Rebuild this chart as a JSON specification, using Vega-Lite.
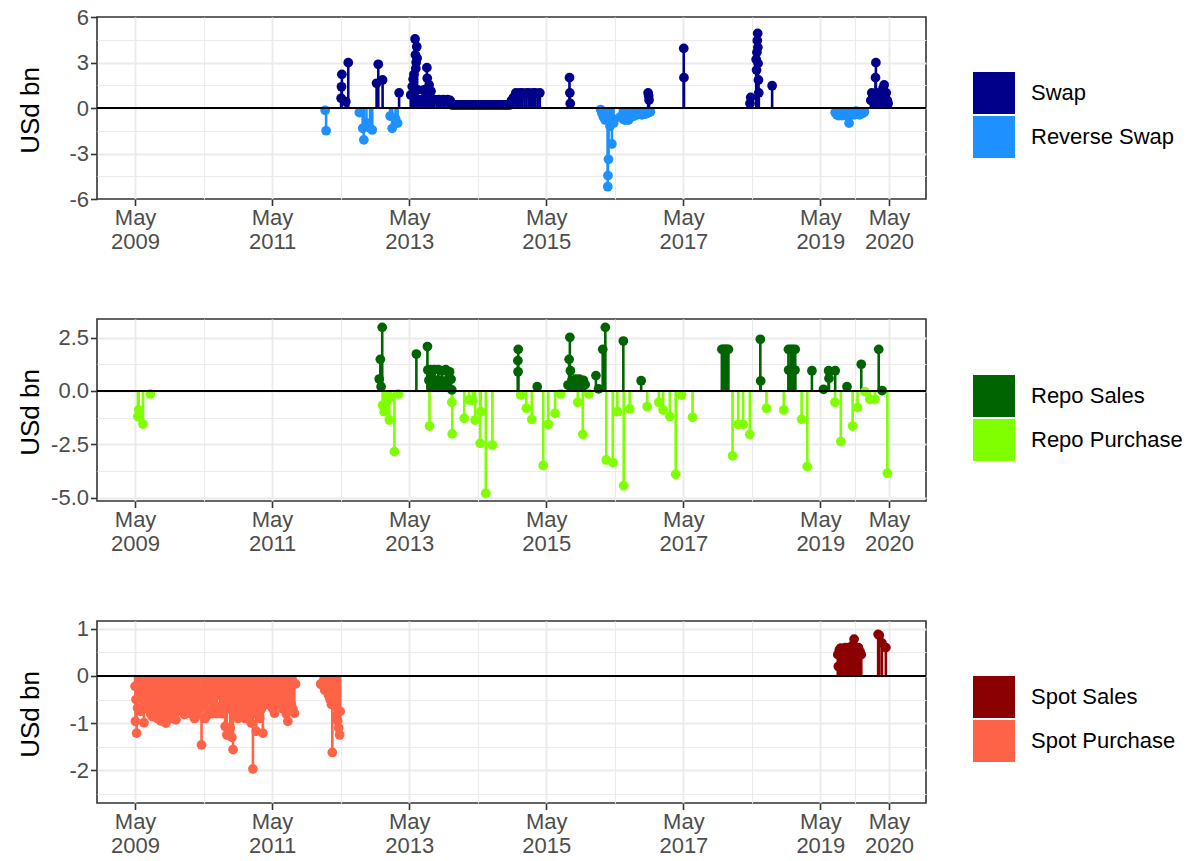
{
"$schema": "https://vega.github.io/schema/vega-lite/v6.json",
"padding": {"left": 16, "top": 5, "right": 0, "bottom": 0},
"background": "white",
"config": {
 "font": "Liberation Sans",
 "view": {"stroke": "#333333", "strokeWidth": 1.6},
 "axis": {"domain": false, "gridColor": "#EBEBEB", "tickColor": "#333333", "tickWidth": 1.6, "tickSize": 6.5, "labelColor": "#4D4D4D", "labelFontSize": 22, "labelPadding": 2, "labelFont": "Liberation Sans", "titleFont": "Liberation Sans", "titleFontSize": 26, "titleFontWeight": "normal", "titleColor": "#000000", "tickCount": 100},
 "legend": {"symbolType": "square", "symbolSize": 1764, "symbolStrokeWidth": 0, "symbolOpacity": 1, "labelFontSize": 22, "labelColor": "#000000", "labelFont": "Liberation Sans", "labelOffset": 16, "rowPadding": 2, "padding": 0, "labelLimit": 300}
},
"datasets": {
"swap": [
{"date":"2012-02-08","type":"Reverse Swap","value":-0.15},
{"date":"2012-02-13","type":"Reverse Swap","value":-1.5},
{"date":"2012-08-08","type":"Reverse Swap","value":-0.3},
{"date":"2012-08-26","type":"Reverse Swap","value":-1.34},
{"date":"2012-09-01","type":"Reverse Swap","value":-2.1},
{"date":"2012-09-15","type":"Reverse Swap","value":-1.0},
{"date":"2012-10-04","type":"Reverse Swap","value":-1.34},
{"date":"2012-10-16","type":"Reverse Swap","value":-1.45},
{"date":"2013-01-19","type":"Reverse Swap","value":-0.53},
{"date":"2013-01-30","type":"Reverse Swap","value":-1.34},
{"date":"2013-02-17","type":"Reverse Swap","value":-0.7},
{"date":"2013-02-28","type":"Reverse Swap","value":-1.0},
{"date":"2016-02-15","type":"Reverse Swap","value":-0.1},
{"date":"2016-02-22","type":"Reverse Swap","value":-0.35},
{"date":"2016-03-01","type":"Reverse Swap","value":-0.6},
{"date":"2016-03-10","type":"Reverse Swap","value":-0.79},
{"date":"2016-03-18","type":"Reverse Swap","value":-0.5},
{"date":"2016-03-24","type":"Reverse Swap","value":-5.19},
{"date":"2016-03-25","type":"Reverse Swap","value":-4.46},
{"date":"2016-03-28","type":"Reverse Swap","value":-3.38},
{"date":"2016-04-05","type":"Reverse Swap","value":-1.2},
{"date":"2016-04-15","type":"Reverse Swap","value":-2.37},
{"date":"2016-04-20","type":"Reverse Swap","value":-0.7},
{"date":"2016-04-24","type":"Reverse Swap","value":-1.0},
{"date":"2016-05-28","type":"Reverse Swap","value":-0.6},
{"date":"2016-06-06","type":"Reverse Swap","value":-0.57},
{"date":"2016-06-15","type":"Reverse Swap","value":-0.75},
{"date":"2016-06-24","type":"Reverse Swap","value":-0.8},
{"date":"2016-07-03","type":"Reverse Swap","value":-0.65},
{"date":"2016-07-12","type":"Reverse Swap","value":-0.8},
{"date":"2016-07-21","type":"Reverse Swap","value":-0.6},
{"date":"2016-07-30","type":"Reverse Swap","value":-0.5},
{"date":"2016-08-08","type":"Reverse Swap","value":-0.55},
{"date":"2016-08-17","type":"Reverse Swap","value":-0.4},
{"date":"2016-08-26","type":"Reverse Swap","value":-0.45},
{"date":"2016-09-04","type":"Reverse Swap","value":-0.35},
{"date":"2016-09-13","type":"Reverse Swap","value":-0.4},
{"date":"2016-09-22","type":"Reverse Swap","value":-0.45},
{"date":"2016-10-01","type":"Reverse Swap","value":-0.3},
{"date":"2016-10-10","type":"Reverse Swap","value":-0.4},
{"date":"2016-10-19","type":"Reverse Swap","value":-0.35},
{"date":"2016-10-28","type":"Reverse Swap","value":-0.3},
{"date":"2016-11-06","type":"Reverse Swap","value":-0.25},
{"date":"2019-07-19","type":"Reverse Swap","value":-0.3},
{"date":"2019-07-28","type":"Reverse Swap","value":-0.45},
{"date":"2019-08-06","type":"Reverse Swap","value":-0.5},
{"date":"2019-08-15","type":"Reverse Swap","value":-0.35},
{"date":"2019-08-24","type":"Reverse Swap","value":-0.5},
{"date":"2019-09-02","type":"Reverse Swap","value":-0.4},
{"date":"2019-09-11","type":"Reverse Swap","value":-0.5},
{"date":"2019-09-20","type":"Reverse Swap","value":-0.45},
{"date":"2019-10-01","type":"Reverse Swap","value":-1.0},
{"date":"2019-10-05","type":"Reverse Swap","value":-0.5},
{"date":"2019-10-12","type":"Reverse Swap","value":-0.4},
{"date":"2019-10-20","type":"Reverse Swap","value":-0.3},
{"date":"2019-10-29","type":"Reverse Swap","value":-0.45},
{"date":"2019-11-07","type":"Reverse Swap","value":-0.2},
{"date":"2019-11-16","type":"Reverse Swap","value":-0.4},
{"date":"2019-11-25","type":"Reverse Swap","value":-0.45},
{"date":"2019-12-04","type":"Reverse Swap","value":-0.3},
{"date":"2019-12-13","type":"Reverse Swap","value":-0.35},
{"date":"2019-12-22","type":"Reverse Swap","value":-0.25},
{"date":"2012-05-03","type":"Swap","value":0.64},
{"date":"2012-05-05","type":"Swap","value":1.4},
{"date":"2012-05-07","type":"Swap","value":2.22},
{"date":"2012-05-28","type":"Swap","value":0.42},
{"date":"2012-06-10","type":"Swap","value":2.99},
{"date":"2012-11-08","type":"Swap","value":1.63},
{"date":"2012-11-17","type":"Swap","value":2.88},
{"date":"2012-12-10","type":"Swap","value":1.85},
{"date":"2013-03-08","type":"Swap","value":1.0},
{"date":"2013-05-09","type":"Swap","value":0.86},
{"date":"2013-05-17","type":"Swap","value":1.41},
{"date":"2013-05-22","type":"Swap","value":1.9},
{"date":"2013-05-26","type":"Swap","value":2.22},
{"date":"2013-06-01","type":"Swap","value":4.55},
{"date":"2013-06-03","type":"Swap","value":3.5},
{"date":"2013-06-05","type":"Swap","value":2.6},
{"date":"2013-06-07","type":"Swap","value":3.0},
{"date":"2013-06-10","type":"Swap","value":4.04},
{"date":"2013-06-12","type":"Swap","value":3.28},
{"date":"2013-06-15","type":"Swap","value":1.2},
{"date":"2013-06-20","type":"Swap","value":0.5},
{"date":"2013-07-01","type":"Swap","value":0.55},
{"date":"2013-07-10","type":"Swap","value":0.5},
{"date":"2013-07-18","type":"Swap","value":1.2},
{"date":"2013-07-22","type":"Swap","value":0.55},
{"date":"2013-07-28","type":"Swap","value":1.0},
{"date":"2013-08-03","type":"Swap","value":2.66},
{"date":"2013-08-05","type":"Swap","value":1.96},
{"date":"2013-08-08","type":"Swap","value":0.5},
{"date":"2013-08-15","type":"Swap","value":1.52},
{"date":"2013-08-20","type":"Swap","value":0.55},
{"date":"2013-08-25","type":"Swap","value":1.1},
{"date":"2013-09-01","type":"Swap","value":0.5},
{"date":"2013-09-12","type":"Swap","value":0.55},
{"date":"2013-09-25","type":"Swap","value":0.5},
{"date":"2013-10-05","type":"Swap","value":0.55},
{"date":"2013-10-18","type":"Swap","value":0.5},
{"date":"2013-10-30","type":"Swap","value":0.55},
{"date":"2013-11-10","type":"Swap","value":0.5},
{"date":"2013-11-22","type":"Swap","value":0.55},
{"date":"2013-12-05","type":"Swap","value":0.5},
{"date":"2013-12-15","type":"Swap","value":0.2},
{"date":"2013-12-27","type":"Swap","value":0.2},
{"date":"2014-01-08","type":"Swap","value":0.2},
{"date":"2014-01-20","type":"Swap","value":0.2},
{"date":"2014-02-01","type":"Swap","value":0.2},
{"date":"2014-02-12","type":"Swap","value":0.2},
{"date":"2014-02-24","type":"Swap","value":0.2},
{"date":"2014-03-08","type":"Swap","value":0.2},
{"date":"2014-03-20","type":"Swap","value":0.2},
{"date":"2014-04-01","type":"Swap","value":0.2},
{"date":"2014-04-12","type":"Swap","value":0.2},
{"date":"2014-04-24","type":"Swap","value":0.2},
{"date":"2014-05-06","type":"Swap","value":0.2},
{"date":"2014-05-18","type":"Swap","value":0.2},
{"date":"2014-05-30","type":"Swap","value":0.2},
{"date":"2014-06-10","type":"Swap","value":0.2},
{"date":"2014-06-22","type":"Swap","value":0.2},
{"date":"2014-07-04","type":"Swap","value":0.2},
{"date":"2014-07-16","type":"Swap","value":0.2},
{"date":"2014-07-28","type":"Swap","value":0.2},
{"date":"2014-08-08","type":"Swap","value":0.2},
{"date":"2014-08-20","type":"Swap","value":0.2},
{"date":"2014-09-01","type":"Swap","value":0.2},
{"date":"2014-09-12","type":"Swap","value":0.2},
{"date":"2014-09-24","type":"Swap","value":0.2},
{"date":"2014-10-06","type":"Swap","value":0.2},
{"date":"2014-10-18","type":"Swap","value":0.2},
{"date":"2014-10-28","type":"Swap","value":0.5},
{"date":"2014-11-08","type":"Swap","value":0.7},
{"date":"2014-11-20","type":"Swap","value":1.0},
{"date":"2014-12-01","type":"Swap","value":0.95},
{"date":"2014-12-12","type":"Swap","value":1.0},
{"date":"2014-12-24","type":"Swap","value":1.0},
{"date":"2015-01-05","type":"Swap","value":0.95},
{"date":"2015-01-16","type":"Swap","value":1.0},
{"date":"2015-01-28","type":"Swap","value":1.0},
{"date":"2015-02-08","type":"Swap","value":0.95},
{"date":"2015-02-20","type":"Swap","value":1.0},
{"date":"2015-03-04","type":"Swap","value":1.0},
{"date":"2015-03-16","type":"Swap","value":0.95},
{"date":"2015-03-28","type":"Swap","value":1.0},
{"date":"2015-09-02","type":"Swap","value":2.0},
{"date":"2015-09-04","type":"Swap","value":1.0},
{"date":"2015-09-06","type":"Swap","value":0.3},
{"date":"2016-10-25","type":"Swap","value":1.0},
{"date":"2016-10-28","type":"Swap","value":0.8},
{"date":"2016-10-30","type":"Swap","value":0.53},
{"date":"2017-05-03","type":"Swap","value":3.93},
{"date":"2017-05-04","type":"Swap","value":2.0},
{"date":"2018-04-21","type":"Swap","value":0.3},
{"date":"2018-04-25","type":"Swap","value":0.7},
{"date":"2018-05-24","type":"Swap","value":3.2},
{"date":"2018-05-26","type":"Swap","value":2.5},
{"date":"2018-05-28","type":"Swap","value":3.67},
{"date":"2018-05-30","type":"Swap","value":4.44},
{"date":"2018-06-01","type":"Swap","value":4.92},
{"date":"2018-06-02","type":"Swap","value":4.0},
{"date":"2018-06-03","type":"Swap","value":2.94},
{"date":"2018-06-05","type":"Swap","value":1.85},
{"date":"2018-06-07","type":"Swap","value":1.0},
{"date":"2018-08-17","type":"Swap","value":1.47},
{"date":"2020-01-25","type":"Swap","value":0.5},
{"date":"2020-01-30","type":"Swap","value":1.0},
{"date":"2020-02-05","type":"Swap","value":0.7},
{"date":"2020-02-15","type":"Swap","value":0.8},
{"date":"2020-02-19","type":"Swap","value":2.0},
{"date":"2020-02-21","type":"Swap","value":2.99},
{"date":"2020-02-28","type":"Swap","value":0.6},
{"date":"2020-03-06","type":"Swap","value":1.0},
{"date":"2020-03-14","type":"Swap","value":0.5},
{"date":"2020-03-22","type":"Swap","value":0.9},
{"date":"2020-03-30","type":"Swap","value":1.3},
{"date":"2020-04-05","type":"Swap","value":1.52},
{"date":"2020-04-10","type":"Swap","value":0.8},
{"date":"2020-04-16","type":"Swap","value":1.0},
{"date":"2020-04-22","type":"Swap","value":0.5},
{"date":"2020-04-26","type":"Swap","value":0.3}
],
"repo": [
{"date":"2009-05-16","type":"Repo Purchase","value":-1.2},
{"date":"2009-05-20","type":"Repo Purchase","value":-0.89},
{"date":"2009-06-12","type":"Repo Purchase","value":-1.55},
{"date":"2009-07-21","type":"Repo Purchase","value":-0.14},
{"date":"2012-12-10","type":"Repo Purchase","value":-0.66},
{"date":"2012-12-19","type":"Repo Purchase","value":-0.97},
{"date":"2012-12-31","type":"Repo Purchase","value":-0.5},
{"date":"2013-01-15","type":"Repo Purchase","value":-1.36},
{"date":"2013-01-23","type":"Repo Purchase","value":-0.3},
{"date":"2013-02-11","type":"Repo Purchase","value":-2.84},
{"date":"2013-03-05","type":"Repo Purchase","value":-0.14},
{"date":"2013-08-17","type":"Repo Purchase","value":-1.64},
{"date":"2013-12-14","type":"Repo Purchase","value":-0.53},
{"date":"2013-12-16","type":"Repo Purchase","value":-2.01},
{"date":"2014-02-18","type":"Repo Purchase","value":-1.28},
{"date":"2014-03-16","type":"Repo Purchase","value":-0.42},
{"date":"2014-04-05","type":"Repo Purchase","value":-0.45},
{"date":"2014-04-17","type":"Repo Purchase","value":-1.36},
{"date":"2014-05-14","type":"Repo Purchase","value":-2.45},
{"date":"2014-05-17","type":"Repo Purchase","value":-0.97},
{"date":"2014-06-13","type":"Repo Purchase","value":-4.79},
{"date":"2014-07-18","type":"Repo Purchase","value":-2.53},
{"date":"2014-12-16","type":"Repo Purchase","value":-0.19},
{"date":"2015-01-15","type":"Repo Purchase","value":-0.81},
{"date":"2015-02-13","type":"Repo Purchase","value":-1.33},
{"date":"2015-04-15","type":"Repo Purchase","value":-3.49},
{"date":"2015-05-12","type":"Repo Purchase","value":-1.56},
{"date":"2015-06-17","type":"Repo Purchase","value":-1.05},
{"date":"2015-07-17","type":"Repo Purchase","value":-0.14},
{"date":"2015-10-16","type":"Repo Purchase","value":-0.53},
{"date":"2015-11-12","type":"Repo Purchase","value":-2.03},
{"date":"2015-12-14","type":"Repo Purchase","value":-0.14},
{"date":"2016-03-16","type":"Repo Purchase","value":-3.23},
{"date":"2016-04-20","type":"Repo Purchase","value":-3.35},
{"date":"2016-05-14","type":"Repo Purchase","value":-0.97},
{"date":"2016-06-17","type":"Repo Purchase","value":-4.43},
{"date":"2016-07-19","type":"Repo Purchase","value":-0.84},
{"date":"2016-10-20","type":"Repo Purchase","value":-0.73},
{"date":"2016-12-21","type":"Repo Purchase","value":-0.53},
{"date":"2017-01-13","type":"Repo Purchase","value":-0.89},
{"date":"2017-02-18","type":"Repo Purchase","value":-1.2},
{"date":"2017-03-21","type":"Repo Purchase","value":-3.9},
{"date":"2017-04-21","type":"Repo Purchase","value":-0.19},
{"date":"2017-06-19","type":"Repo Purchase","value":-1.23},
{"date":"2018-01-18","type":"Repo Purchase","value":-3.04},
{"date":"2018-02-17","type":"Repo Purchase","value":-1.56},
{"date":"2018-03-15","type":"Repo Purchase","value":-1.56},
{"date":"2018-04-20","type":"Repo Purchase","value":-2.03},
{"date":"2018-07-18","type":"Repo Purchase","value":-0.81},
{"date":"2018-10-18","type":"Repo Purchase","value":-0.89},
{"date":"2019-01-21","type":"Repo Purchase","value":-1.33},
{"date":"2019-02-20","type":"Repo Purchase","value":-3.54},
{"date":"2019-07-18","type":"Repo Purchase","value":-0.53},
{"date":"2019-08-18","type":"Repo Purchase","value":-2.37},
{"date":"2019-10-20","type":"Repo Purchase","value":-1.64},
{"date":"2019-11-15","type":"Repo Purchase","value":-0.78},
{"date":"2019-12-25","type":"Repo Purchase","value":-0.03},
{"date":"2020-01-20","type":"Repo Purchase","value":-0.39},
{"date":"2020-02-16","type":"Repo Purchase","value":-0.39},
{"date":"2020-04-22","type":"Repo Purchase","value":-3.85},
{"date":"2012-11-22","type":"Repo Sales","value":0.56},
{"date":"2012-11-28","type":"Repo Sales","value":1.48},
{"date":"2012-12-02","type":"Repo Sales","value":0.2},
{"date":"2012-12-08","type":"Repo Sales","value":2.98},
{"date":"2013-06-08","type":"Repo Sales","value":1.73},
{"date":"2013-08-06","type":"Repo Sales","value":2.08},
{"date":"2013-08-08","type":"Repo Sales","value":0.98},
{"date":"2013-08-14","type":"Repo Sales","value":0.5},
{"date":"2013-08-24","type":"Repo Sales","value":1.0},
{"date":"2013-09-03","type":"Repo Sales","value":0.6},
{"date":"2013-09-13","type":"Repo Sales","value":1.0},
{"date":"2013-09-23","type":"Repo Sales","value":0.45},
{"date":"2013-10-03","type":"Repo Sales","value":1.0},
{"date":"2013-10-13","type":"Repo Sales","value":0.5},
{"date":"2013-10-23","type":"Repo Sales","value":0.95},
{"date":"2013-11-02","type":"Repo Sales","value":0.45},
{"date":"2013-11-12","type":"Repo Sales","value":1.0},
{"date":"2013-11-22","type":"Repo Sales","value":0.5},
{"date":"2013-12-02","type":"Repo Sales","value":0.9},
{"date":"2013-12-10","type":"Repo Sales","value":0.55},
{"date":"2013-12-14","type":"Repo Sales","value":0.05},
{"date":"2014-12-01","type":"Repo Sales","value":1.42},
{"date":"2014-12-02","type":"Repo Sales","value":0.9},
{"date":"2014-12-03","type":"Repo Sales","value":1.95},
{"date":"2015-03-14","type":"Repo Sales","value":0.2},
{"date":"2015-08-25","type":"Repo Sales","value":0.28},
{"date":"2015-08-31","type":"Repo Sales","value":1.48},
{"date":"2015-09-04","type":"Repo Sales","value":2.51},
{"date":"2015-09-07","type":"Repo Sales","value":0.95},
{"date":"2015-09-15","type":"Repo Sales","value":0.5},
{"date":"2015-09-25","type":"Repo Sales","value":0.35},
{"date":"2015-10-05","type":"Repo Sales","value":0.55},
{"date":"2015-10-15","type":"Repo Sales","value":0.4},
{"date":"2015-10-25","type":"Repo Sales","value":0.55},
{"date":"2015-11-05","type":"Repo Sales","value":0.35},
{"date":"2015-11-15","type":"Repo Sales","value":0.5},
{"date":"2015-11-25","type":"Repo Sales","value":0.3},
{"date":"2016-01-21","type":"Repo Sales","value":0.72},
{"date":"2016-02-04","type":"Repo Sales","value":0.1},
{"date":"2016-02-26","type":"Repo Sales","value":1.95},
{"date":"2016-03-11","type":"Repo Sales","value":2.98},
{"date":"2016-06-15","type":"Repo Sales","value":2.34},
{"date":"2016-09-18","type":"Repo Sales","value":0.48},
{"date":"2017-11-22","type":"Repo Sales","value":1.95},
{"date":"2017-12-01","type":"Repo Sales","value":1.95},
{"date":"2017-12-10","type":"Repo Sales","value":1.95},
{"date":"2017-12-18","type":"Repo Sales","value":1.95},
{"date":"2017-12-27","type":"Repo Sales","value":1.95},
{"date":"2018-06-15","type":"Repo Sales","value":2.42},
{"date":"2018-06-17","type":"Repo Sales","value":0.47},
{"date":"2018-11-12","type":"Repo Sales","value":1.95},
{"date":"2018-11-24","type":"Repo Sales","value":1.95},
{"date":"2018-12-06","type":"Repo Sales","value":1.95},
{"date":"2018-12-18","type":"Repo Sales","value":1.95},
{"date":"2018-11-13","type":"Repo Sales","value":0.98},
{"date":"2018-11-25","type":"Repo Sales","value":0.98},
{"date":"2018-12-07","type":"Repo Sales","value":0.98},
{"date":"2018-12-17","type":"Repo Sales","value":0.98},
{"date":"2019-03-17","type":"Repo Sales","value":0.95},
{"date":"2019-05-18","type":"Repo Sales","value":0.08},
{"date":"2019-06-14","type":"Repo Sales","value":0.95},
{"date":"2019-06-16","type":"Repo Sales","value":0.59},
{"date":"2019-07-19","type":"Repo Sales","value":0.95},
{"date":"2019-09-20","type":"Repo Sales","value":0.2},
{"date":"2019-12-05","type":"Repo Sales","value":1.25},
{"date":"2020-03-07","type":"Repo Sales","value":1.95},
{"date":"2020-03-25","type":"Repo Sales","value":0.02}
],
"spot": [
{"date":"2009-05-01","type":"Spot Purchase","value":-0.22},
{"date":"2009-05-03","type":"Spot Purchase","value":-0.96},
{"date":"2009-05-06","type":"Spot Purchase","value":-0.5},
{"date":"2009-05-09","type":"Spot Purchase","value":-1.21},
{"date":"2009-05-14","type":"Spot Purchase","value":-0.68},
{"date":"2009-05-22","type":"Spot Purchase","value":-0.45},
{"date":"2009-05-31","type":"Spot Purchase","value":-0.75},
{"date":"2009-06-08","type":"Spot Purchase","value":-0.3},
{"date":"2009-06-17","type":"Spot Purchase","value":-0.99},
{"date":"2009-06-26","type":"Spot Purchase","value":-0.6},
{"date":"2009-07-05","type":"Spot Purchase","value":-0.7},
{"date":"2009-07-14","type":"Spot Purchase","value":-0.5},
{"date":"2009-07-23","type":"Spot Purchase","value":-0.8},
{"date":"2009-08-01","type":"Spot Purchase","value":-0.86},
{"date":"2009-08-10","type":"Spot Purchase","value":-0.6},
{"date":"2009-08-19","type":"Spot Purchase","value":-0.75},
{"date":"2009-08-28","type":"Spot Purchase","value":-0.9},
{"date":"2009-09-06","type":"Spot Purchase","value":-0.7},
{"date":"2009-09-15","type":"Spot Purchase","value":-0.95},
{"date":"2009-09-24","type":"Spot Purchase","value":-0.8},
{"date":"2009-10-03","type":"Spot Purchase","value":-0.6},
{"date":"2009-10-12","type":"Spot Purchase","value":-1.0},
{"date":"2009-10-21","type":"Spot Purchase","value":-0.85},
{"date":"2009-10-30","type":"Spot Purchase","value":-0.7},
{"date":"2009-11-08","type":"Spot Purchase","value":-0.9},
{"date":"2009-11-17","type":"Spot Purchase","value":-0.6},
{"date":"2009-11-26","type":"Spot Purchase","value":-0.8},
{"date":"2009-12-05","type":"Spot Purchase","value":-0.93},
{"date":"2009-12-14","type":"Spot Purchase","value":-0.75},
{"date":"2009-12-23","type":"Spot Purchase","value":-0.5},
{"date":"2010-01-01","type":"Spot Purchase","value":-0.7},
{"date":"2010-01-10","type":"Spot Purchase","value":-0.6},
{"date":"2010-01-19","type":"Spot Purchase","value":-0.82},
{"date":"2010-01-28","type":"Spot Purchase","value":-0.78},
{"date":"2010-02-06","type":"Spot Purchase","value":-0.5},
{"date":"2010-02-15","type":"Spot Purchase","value":-0.7},
{"date":"2010-02-24","type":"Spot Purchase","value":-0.8},
{"date":"2010-03-05","type":"Spot Purchase","value":-0.6},
{"date":"2010-03-14","type":"Spot Purchase","value":-0.9},
{"date":"2010-03-23","type":"Spot Purchase","value":-0.85},
{"date":"2010-04-01","type":"Spot Purchase","value":-0.5},
{"date":"2010-04-10","type":"Spot Purchase","value":-0.7},
{"date":"2010-04-20","type":"Spot Purchase","value":-1.46},
{"date":"2010-04-29","type":"Spot Purchase","value":-0.6},
{"date":"2010-05-08","type":"Spot Purchase","value":-0.9},
{"date":"2010-05-17","type":"Spot Purchase","value":-0.85},
{"date":"2010-05-26","type":"Spot Purchase","value":-0.5},
{"date":"2010-06-04","type":"Spot Purchase","value":-0.7},
{"date":"2010-06-13","type":"Spot Purchase","value":-0.8},
{"date":"2010-06-22","type":"Spot Purchase","value":-0.55},
{"date":"2010-07-01","type":"Spot Purchase","value":-0.75},
{"date":"2010-07-10","type":"Spot Purchase","value":-0.8},
{"date":"2010-07-19","type":"Spot Purchase","value":-0.4},
{"date":"2010-07-28","type":"Spot Purchase","value":-0.65},
{"date":"2010-08-06","type":"Spot Purchase","value":-0.8},
{"date":"2010-08-15","type":"Spot Purchase","value":-0.5},
{"date":"2010-08-24","type":"Spot Purchase","value":-1.07},
{"date":"2010-09-02","type":"Spot Purchase","value":-1.25},
{"date":"2010-09-11","type":"Spot Purchase","value":-0.7},
{"date":"2010-09-20","type":"Spot Purchase","value":-1.1},
{"date":"2010-09-29","type":"Spot Purchase","value":-1.3},
{"date":"2010-10-05","type":"Spot Purchase","value":-1.56},
{"date":"2010-10-14","type":"Spot Purchase","value":-0.8},
{"date":"2010-10-23","type":"Spot Purchase","value":-0.6},
{"date":"2010-11-01","type":"Spot Purchase","value":-0.9},
{"date":"2010-11-10","type":"Spot Purchase","value":-0.5},
{"date":"2010-11-19","type":"Spot Purchase","value":-0.75},
{"date":"2010-11-28","type":"Spot Purchase","value":-0.85},
{"date":"2010-12-07","type":"Spot Purchase","value":-0.9},
{"date":"2010-12-16","type":"Spot Purchase","value":-0.6},
{"date":"2010-12-25","type":"Spot Purchase","value":-0.8},
{"date":"2011-01-03","type":"Spot Purchase","value":-0.7},
{"date":"2011-01-10","type":"Spot Purchase","value":-1.0},
{"date":"2011-01-19","type":"Spot Purchase","value":-1.97},
{"date":"2011-01-28","type":"Spot Purchase","value":-0.8},
{"date":"2011-02-06","type":"Spot Purchase","value":-1.17},
{"date":"2011-02-15","type":"Spot Purchase","value":-0.6},
{"date":"2011-02-24","type":"Spot Purchase","value":-0.9},
{"date":"2011-03-05","type":"Spot Purchase","value":-0.7},
{"date":"2011-03-13","type":"Spot Purchase","value":-1.21},
{"date":"2011-03-22","type":"Spot Purchase","value":-0.5},
{"date":"2011-03-31","type":"Spot Purchase","value":-0.6},
{"date":"2011-04-09","type":"Spot Purchase","value":-0.35},
{"date":"2011-04-18","type":"Spot Purchase","value":-0.5},
{"date":"2011-04-27","type":"Spot Purchase","value":-0.65},
{"date":"2011-05-06","type":"Spot Purchase","value":-0.7},
{"date":"2011-05-14","type":"Spot Purchase","value":-0.79},
{"date":"2011-05-23","type":"Spot Purchase","value":-0.5},
{"date":"2011-06-01","type":"Spot Purchase","value":-0.35},
{"date":"2011-06-10","type":"Spot Purchase","value":-0.6},
{"date":"2011-06-19","type":"Spot Purchase","value":-0.5},
{"date":"2011-06-28","type":"Spot Purchase","value":-0.7},
{"date":"2011-07-07","type":"Spot Purchase","value":-0.6},
{"date":"2011-07-16","type":"Spot Purchase","value":-0.8},
{"date":"2011-07-24","type":"Spot Purchase","value":-0.96},
{"date":"2011-08-02","type":"Spot Purchase","value":-0.5},
{"date":"2011-08-11","type":"Spot Purchase","value":-0.6},
{"date":"2011-08-20","type":"Spot Purchase","value":-0.7},
{"date":"2011-08-28","type":"Spot Purchase","value":-0.79},
{"date":"2011-09-03","type":"Spot Purchase","value":-0.17},
{"date":"2012-01-15","type":"Spot Purchase","value":-0.17},
{"date":"2012-01-25","type":"Spot Purchase","value":-0.2},
{"date":"2012-02-05","type":"Spot Purchase","value":-0.3},
{"date":"2012-02-16","type":"Spot Purchase","value":-0.3},
{"date":"2012-02-25","type":"Spot Purchase","value":-0.4},
{"date":"2012-03-05","type":"Spot Purchase","value":-0.5},
{"date":"2012-03-12","type":"Spot Purchase","value":-0.6},
{"date":"2012-03-17","type":"Spot Purchase","value":-1.62},
{"date":"2012-03-22","type":"Spot Purchase","value":-0.55},
{"date":"2012-04-01","type":"Spot Purchase","value":-0.44},
{"date":"2012-04-06","type":"Spot Purchase","value":-0.65},
{"date":"2012-04-10","type":"Spot Purchase","value":-0.83},
{"date":"2012-04-15","type":"Spot Purchase","value":-0.95},
{"date":"2012-04-20","type":"Spot Purchase","value":-1.1},
{"date":"2012-04-25","type":"Spot Purchase","value":-1.25},
{"date":"2012-04-28","type":"Spot Purchase","value":-0.75},
{"date":"2019-08-02","type":"Spot Sales","value":0.45},
{"date":"2019-08-05","type":"Spot Sales","value":0.2},
{"date":"2019-08-10","type":"Spot Sales","value":0.55},
{"date":"2019-08-18","type":"Spot Sales","value":0.59},
{"date":"2019-08-26","type":"Spot Sales","value":0.4},
{"date":"2019-09-03","type":"Spot Sales","value":0.55},
{"date":"2019-09-11","type":"Spot Sales","value":0.6},
{"date":"2019-09-19","type":"Spot Sales","value":0.5},
{"date":"2019-09-27","type":"Spot Sales","value":0.6},
{"date":"2019-10-05","type":"Spot Sales","value":0.45},
{"date":"2019-10-13","type":"Spot Sales","value":0.55},
{"date":"2019-10-21","type":"Spot Sales","value":0.65},
{"date":"2019-10-28","type":"Spot Sales","value":0.78},
{"date":"2019-11-04","type":"Spot Sales","value":0.6},
{"date":"2019-11-12","type":"Spot Sales","value":0.55},
{"date":"2019-11-20","type":"Spot Sales","value":0.6},
{"date":"2019-11-28","type":"Spot Sales","value":0.52},
{"date":"2019-12-05","type":"Spot Sales","value":0.45},
{"date":"2020-03-04","type":"Spot Sales","value":0.88},
{"date":"2020-03-10","type":"Spot Sales","value":0.86},
{"date":"2020-03-24","type":"Spot Sales","value":0.7},
{"date":"2020-04-14","type":"Spot Sales","value":0.6}
]
},
"vconcat": [
{
 "width": 829, "height": 182,
 "data": {"name": "swap"},
 "layer": [
  {"mark": {"type": "rule", "strokeWidth": 2.6},
   "encoding": {
    "x": {"field": "date", "type": "temporal", "scale": {"type": "utc", "domain": [{"year": 2008, "month": 10, "date": 10, "utc": true}, {"year": 2020, "month": 11, "date": 14, "utc": true}]},
     "axis": {"title": null, "tickCount": 100, "values": [{"year":2009,"month":5,"date":1,"utc":true},{"year":2010,"month":5,"date":1,"utc":true},{"year":2011,"month":5,"date":1,"utc":true},{"year":2012,"month":5,"date":1,"utc":true},{"year":2013,"month":5,"date":1,"utc":true},{"year":2014,"month":5,"date":1,"utc":true},{"year":2015,"month":5,"date":1,"utc":true},{"year":2016,"month":5,"date":1,"utc":true},{"year":2017,"month":5,"date":1,"utc":true},{"year":2018,"month":5,"date":1,"utc":true},{"year":2019,"month":5,"date":1,"utc":true},{"year":2019,"month":11,"date":1,"utc":true},{"year":2020,"month":5,"date":1,"utc":true}],
      "labelExpr": "(utcmonth(datum.value) == 10 || (utcyear(datum.value) % 2 == 0 && utcyear(datum.value) < 2020)) ? '' : [utcFormat(datum.value, '%b'), utcFormat(datum.value, '%Y')]",
      "labelOverlap": false, "labelFlush": false, "labelLineHeight": 24,
      "gridWidth": {"condition": {"test": "utcmonth(datum.value) == 10 || (utcyear(datum.value) % 2 == 0 && utcyear(datum.value) < 2020)", "value": 1.1}, "value": 1.9},
      "tickOpacity": {"condition": {"test": "utcmonth(datum.value) == 10 || (utcyear(datum.value) % 2 == 0 && utcyear(datum.value) < 2020)", "value": 0}, "value": 1}}},
    "y": {"field": "value", "type": "quantitative", "scale": {"domain": [-6, 6], "nice": false, "zero": false},
     "axis": {"title": "USd bn", "tickCount": 100, "values": [-6, -4.5, -3, -1.5, 0, 1.5, 3, 4.5, 6],
      "labelExpr": "datum.value != 3 * round(datum.value / 3) ? '' : '' + datum.value",
      "labelOverlap": false,
      "gridWidth": {"condition": {"test": "datum.value != 3 * round(datum.value / 3)", "value": 1.1}, "value": 1.9},
      "gridOpacity": {"condition": {"test": "abs(datum.value) == 6", "value": 0}, "value": 1},
      "tickOpacity": {"condition": {"test": "datum.value != 3 * round(datum.value / 3)", "value": 0}, "value": 1},
      "titleX": -67, "titleY": 93, "titleAngle": -90, "titleAlign": "center", "titleBaseline": "middle"}},
    "y2": {"datum": 0},
    "color": {"field": "type", "type": "nominal", "scale": {"domain": ["Swap", "Reverse Swap"], "range": ["#00008B", "#1E90FF"]}, "legend": {"title": null, "orient": "none", "legendX": 876, "legendY": 55}}
   }},
  {"mark": {"type": "point", "filled": true, "size": 95, "opacity": 1},
   "encoding": {
    "x": {"field": "date", "type": "temporal"},
    "y": {"field": "value", "type": "quantitative"},
    "color": {"field": "type", "type": "nominal", "scale": {"domain": ["Swap", "Reverse Swap"], "range": ["#00008B", "#1E90FF"]}, "legend": {"title": null, "orient": "none", "legendX": 876, "legendY": 55}}
   }},
  {"data": {"values": [{}]}, "mark": {"type": "rule", "color": "#000000", "strokeWidth": 2}, "encoding": {"y": {"datum": 0}}}
 ]
},
{
 "width": 829, "height": 182,
 "data": {"name": "repo"},
 "layer": [
  {"mark": {"type": "rule", "strokeWidth": 2.6},
   "encoding": {
    "x": {"field": "date", "type": "temporal", "scale": {"type": "utc", "domain": [{"year": 2008, "month": 10, "date": 10, "utc": true}, {"year": 2020, "month": 11, "date": 14, "utc": true}]},
     "axis": {"title": null, "tickCount": 100, "values": [{"year":2009,"month":5,"date":1,"utc":true},{"year":2010,"month":5,"date":1,"utc":true},{"year":2011,"month":5,"date":1,"utc":true},{"year":2012,"month":5,"date":1,"utc":true},{"year":2013,"month":5,"date":1,"utc":true},{"year":2014,"month":5,"date":1,"utc":true},{"year":2015,"month":5,"date":1,"utc":true},{"year":2016,"month":5,"date":1,"utc":true},{"year":2017,"month":5,"date":1,"utc":true},{"year":2018,"month":5,"date":1,"utc":true},{"year":2019,"month":5,"date":1,"utc":true},{"year":2019,"month":11,"date":1,"utc":true},{"year":2020,"month":5,"date":1,"utc":true}],
      "labelExpr": "(utcmonth(datum.value) == 10 || (utcyear(datum.value) % 2 == 0 && utcyear(datum.value) < 2020)) ? '' : [utcFormat(datum.value, '%b'), utcFormat(datum.value, '%Y')]",
      "labelOverlap": false, "labelFlush": false, "labelLineHeight": 24,
      "gridWidth": {"condition": {"test": "utcmonth(datum.value) == 10 || (utcyear(datum.value) % 2 == 0 && utcyear(datum.value) < 2020)", "value": 1.1}, "value": 1.9},
      "tickOpacity": {"condition": {"test": "utcmonth(datum.value) == 10 || (utcyear(datum.value) % 2 == 0 && utcyear(datum.value) < 2020)", "value": 0}, "value": 1}}},
    "y": {"field": "value", "type": "quantitative", "scale": {"domain": [-5.15, 3.37], "nice": false, "zero": false},
     "axis": {"title": "USd bn", "tickCount": 100, "values": [-5, -3.75, -2.5, -1.25, 0, 1.25, 2.5],
      "labelExpr": "datum.value != 2.5 * round(datum.value / 2.5) ? '' : (datum.value < 0 ? '-' : '') + format(abs(datum.value), '.1f')",
      "labelOverlap": false,
      "gridWidth": {"condition": {"test": "datum.value != 2.5 * round(datum.value / 2.5)", "value": 1.1}, "value": 1.9},
      "tickOpacity": {"condition": {"test": "datum.value != 2.5 * round(datum.value / 2.5)", "value": 0}, "value": 1},
      "titleX": -67, "titleY": 93, "titleAngle": -90, "titleAlign": "center", "titleBaseline": "middle"}},
    "y2": {"datum": 0},
    "color": {"field": "type", "type": "nominal", "scale": {"domain": ["Repo Sales", "Repo Purchase"], "range": ["#006400", "#7FFF00"]}, "legend": {"title": null, "orient": "none", "legendX": 876, "legendY": 56}}
   }},
  {"mark": {"type": "point", "filled": true, "size": 95, "opacity": 1},
   "encoding": {
    "x": {"field": "date", "type": "temporal"},
    "y": {"field": "value", "type": "quantitative"},
    "color": {"field": "type", "type": "nominal", "scale": {"domain": ["Repo Sales", "Repo Purchase"], "range": ["#006400", "#7FFF00"]}, "legend": {"title": null, "orient": "none", "legendX": 876, "legendY": 56}}
   }},
  {"data": {"values": [{}]}, "mark": {"type": "rule", "color": "#000000", "strokeWidth": 2}, "encoding": {"y": {"datum": 0}}}
 ]
},
{
 "width": 829, "height": 182,
 "data": {"name": "spot"},
 "layer": [
  {"mark": {"type": "rule", "strokeWidth": 2.6},
   "encoding": {
    "x": {"field": "date", "type": "temporal", "scale": {"type": "utc", "domain": [{"year": 2008, "month": 10, "date": 10, "utc": true}, {"year": 2020, "month": 11, "date": 14, "utc": true}]},
     "axis": {"title": null, "tickCount": 100, "values": [{"year":2009,"month":5,"date":1,"utc":true},{"year":2010,"month":5,"date":1,"utc":true},{"year":2011,"month":5,"date":1,"utc":true},{"year":2012,"month":5,"date":1,"utc":true},{"year":2013,"month":5,"date":1,"utc":true},{"year":2014,"month":5,"date":1,"utc":true},{"year":2015,"month":5,"date":1,"utc":true},{"year":2016,"month":5,"date":1,"utc":true},{"year":2017,"month":5,"date":1,"utc":true},{"year":2018,"month":5,"date":1,"utc":true},{"year":2019,"month":5,"date":1,"utc":true},{"year":2019,"month":11,"date":1,"utc":true},{"year":2020,"month":5,"date":1,"utc":true}],
      "labelExpr": "(utcmonth(datum.value) == 10 || (utcyear(datum.value) % 2 == 0 && utcyear(datum.value) < 2020)) ? '' : [utcFormat(datum.value, '%b'), utcFormat(datum.value, '%Y')]",
      "labelOverlap": false, "labelFlush": false, "labelLineHeight": 24,
      "gridWidth": {"condition": {"test": "utcmonth(datum.value) == 10 || (utcyear(datum.value) % 2 == 0 && utcyear(datum.value) < 2020)", "value": 1.1}, "value": 1.9},
      "tickOpacity": {"condition": {"test": "utcmonth(datum.value) == 10 || (utcyear(datum.value) % 2 == 0 && utcyear(datum.value) < 2020)", "value": 0}, "value": 1}}},
    "y": {"field": "value", "type": "quantitative", "scale": {"domain": [-2.69, 1.163], "nice": false, "zero": false},
     "axis": {"title": "USd bn", "tickCount": 100, "values": [-2.5, -2, -1.5, -1, -0.5, 0, 0.5, 1],
      "labelExpr": "datum.value != round(datum.value) ? '' : '' + datum.value",
      "labelOverlap": false,
      "gridWidth": {"condition": {"test": "datum.value != round(datum.value)", "value": 1.1}, "value": 1.9},
      "tickOpacity": {"condition": {"test": "datum.value != round(datum.value)", "value": 0}, "value": 1},
      "titleX": -67, "titleY": 93, "titleAngle": -90, "titleAlign": "center", "titleBaseline": "middle"}},
    "y2": {"datum": 0},
    "color": {"field": "type", "type": "nominal", "scale": {"domain": ["Spot Sales", "Spot Purchase"], "range": ["#8B0000", "#FF6347"]}, "legend": {"title": null, "orient": "none", "legendX": 876, "legendY": 55}}
   }},
  {"mark": {"type": "point", "filled": true, "size": 95, "opacity": 1},
   "encoding": {
    "x": {"field": "date", "type": "temporal"},
    "y": {"field": "value", "type": "quantitative"},
    "color": {"field": "type", "type": "nominal", "scale": {"domain": ["Spot Sales", "Spot Purchase"], "range": ["#8B0000", "#FF6347"]}, "legend": {"title": null, "orient": "none", "legendX": 876, "legendY": 55}}
   }},
  {"data": {"values": [{}]}, "mark": {"type": "rule", "color": "#000000", "strokeWidth": 2}, "encoding": {"y": {"datum": 0}}}
 ]
}
],
"spacing": 120,
"bounds": "flush",
"resolve": {"scale": {"x": "independent", "y": "independent", "color": "independent"}, "legend": {"color": "independent"}}
}
